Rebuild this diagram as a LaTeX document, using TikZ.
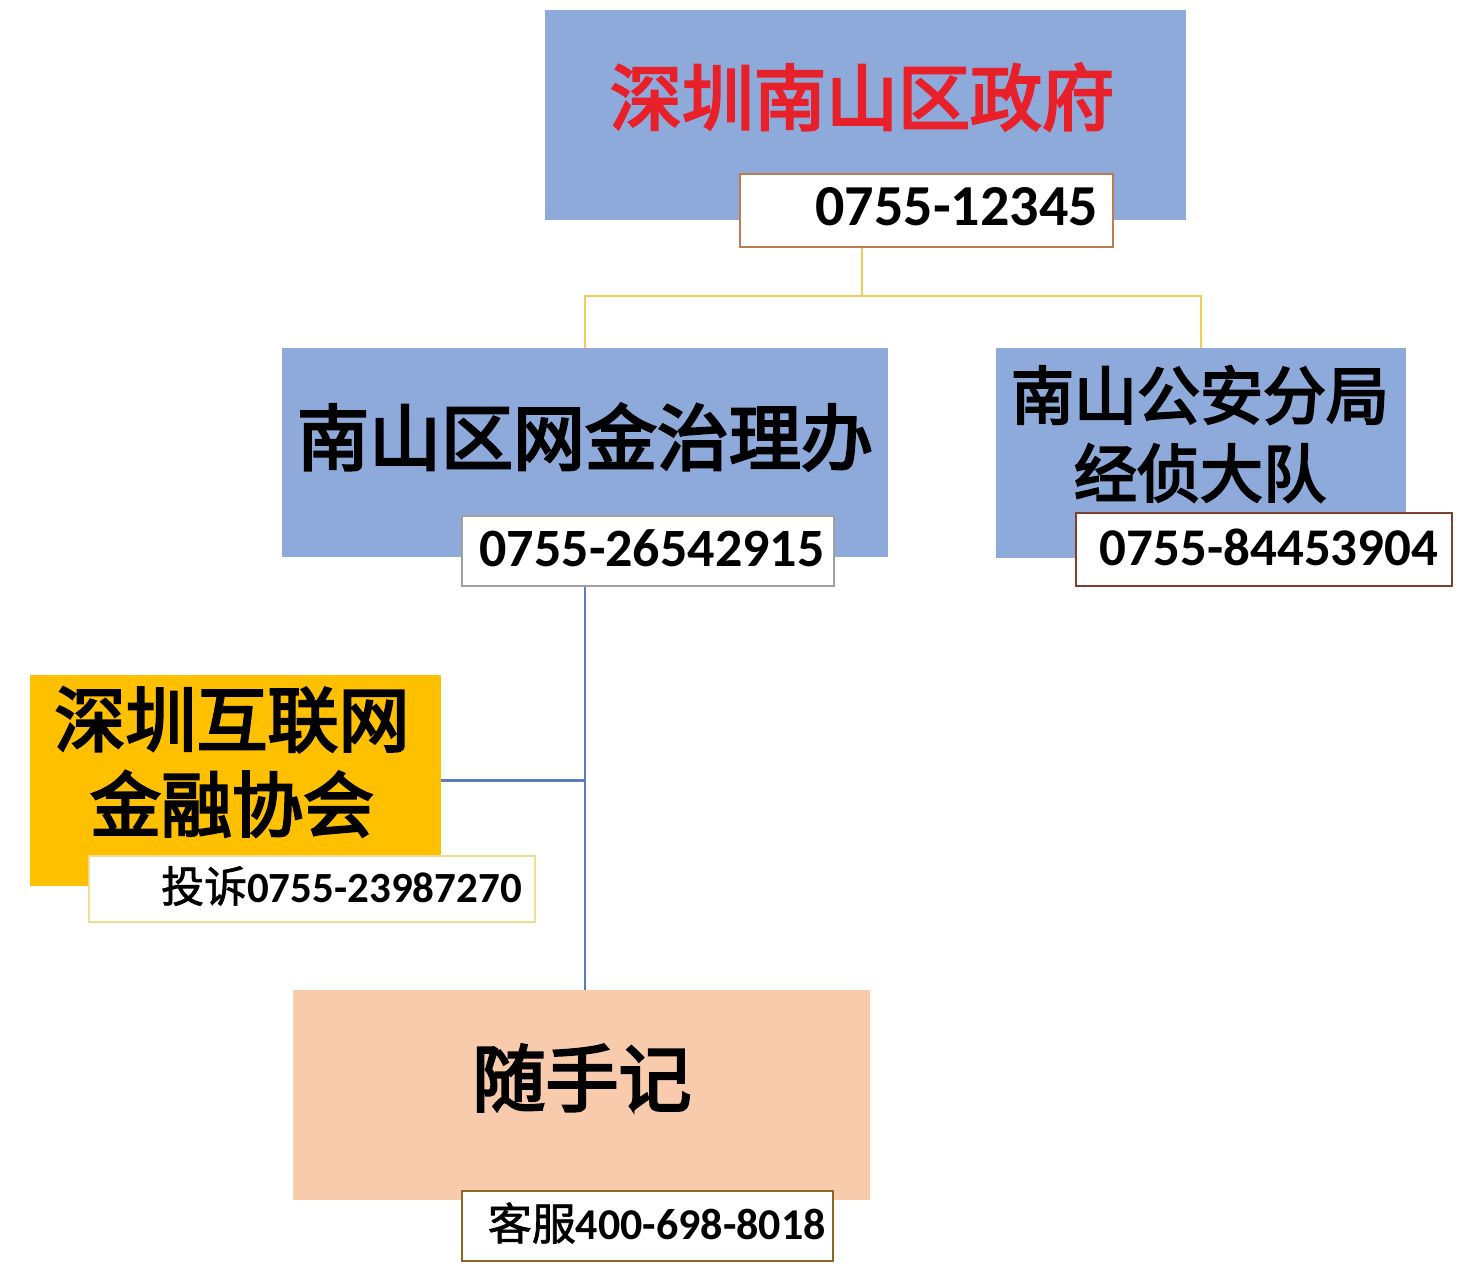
\documentclass[tikz,border=0pt]{standalone}
\usepackage{fontspec}
\setmainfont{Carlito}
\newfontfamily\cjk{Noto Sans CJK SC}[FakeBold=1.5]
\newfontfamily\cjkm{Noto Sans CJK SC}[FakeBold=3.5]
\definecolor{boxblue}{HTML}{8EAADB}
\definecolor{boxorange}{HTML}{FFC000}
\definecolor{boxpeach}{HTML}{F8CBAD}
\definecolor{govred}{HTML}{E8202A}
\definecolor{ylink}{HTML}{F2CB5A}
\definecolor{blink}{HTML}{5B7DC0}
\definecolor{brd1}{HTML}{C07A50}
\definecolor{brd2}{HTML}{A0A0A0}
\definecolor{brd3}{HTML}{7F3F2F}
\definecolor{brd4}{HTML}{F0DC90}
\definecolor{brd5}{HTML}{8B6A20}
\begin{document}
\begin{tikzpicture}[x=1pt,y=-1pt,
  blk/.style={draw=none,anchor=north west,inner sep=0pt},
  phone/.style={anchor=north west,inner sep=0pt,fill=white,line width=1.5pt},
  big/.style={font=\cjkm\fontsize{72}{84}\selectfont,inner sep=0pt,align=center},
  num/.style={font=\bfseries\fontsize{54}{60}\selectfont,inner sep=0pt},
  small/.style={font=\fontsize{43}{50}\selectfont,inner sep=0pt},
  yl/.style={draw=ylink,line width=2.5pt},
  bl/.style={draw=blink,line width=2.5pt}]
\useasboundingbox (0,0) rectangle (1474,1280);
% boxes
\node[blk,fill=boxblue,minimum width=641pt,minimum height=210pt] (gov) at (545,10) {};
\node[big,text=govred] (govt) at (862,97) {深圳南山区政府};
\node[phone,draw=brd1,minimum width=373pt,minimum height=73pt] (p1) at (739,173) {};
\node[num,font=\bfseries\fontsize{58}{60}\selectfont,anchor=east] (p1t) at (1098,207) {0755-12345};

\node[blk,fill=boxblue,minimum width=606pt,minimum height=209pt] (nan) at (282,348) {};
\node[big] (nant) at (585,437) {南山区网金治理办};
\node[phone,draw=brd2,minimum width=372pt,minimum height=70pt] (p2) at (461,515) {};
\node[num] (p2t) at (652,548) {0755-26542915};

\node[blk,fill=boxblue,minimum width=410pt,minimum height=210pt] (gong) at (996,348) {};
\node[big,font=\cjkm\fontsize{63}{78}\selectfont] (gongt) at (1200,434) {南山公安分局\\经侦大队};
\node[phone,draw=brd3,minimum width=376pt,minimum height=73pt] (p3) at (1075,512) {};
\node[num,font=\bfseries\fontsize{53}{60}\selectfont] (p3t) at (1269,547) {0755-84453904};

\node[blk,fill=boxorange,minimum width=411pt,minimum height=211pt] (xie) at (30,675) {};
\node[big,font=\cjkm\fontsize{71}{85}\selectfont] (xiet) at (232,762) {深圳互联网\\金融协会};
\node[phone,draw=brd4,minimum width=446pt,minimum height=66pt] (p4) at (88,855) {};
\node[small,anchor=east] (p4t) at (522,886) {{\cjk 投诉}\bfseries 0755-23987270};

\node[blk,fill=boxpeach,minimum width=577pt,minimum height=210pt] (sui) at (293,990) {};
\node[big,font=\cjkm\fontsize{73}{84}\selectfont] (suit) at (582,1078) {随手记};
\node[phone,draw=brd5,minimum width=371pt,minimum height=70pt] (p5) at (461,1190) {};
\node[small,font=\fontsize{44}{50}\selectfont,anchor=east] (p5t) at (826,1223) {{\cjk 客服}\bfseries 400-698-8018};

% connectors
\coordinate (j1) at (862,296);
\draw[yl] (j1 |- p1.south) -- (j1);
\draw[yl] (nan.north) |- (j1) -| (gong.north);
\draw[bl] (nan.south |- p2.south) -- (nan.south |- sui.north);
\draw[bl] (xie.east) -- (xie.east -| nan.south);
\end{tikzpicture}
\end{document}
